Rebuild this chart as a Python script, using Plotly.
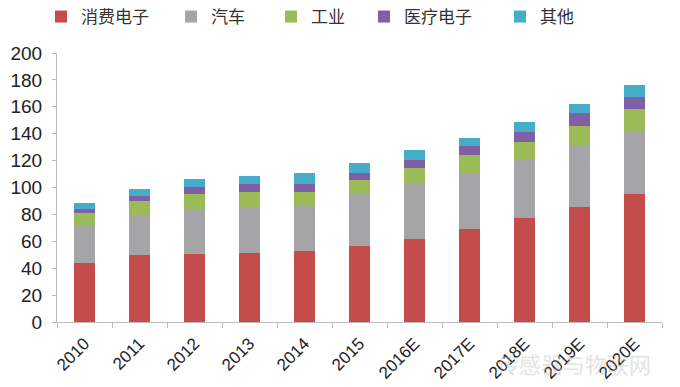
import plotly.graph_objects as go

years = ["2010", "2011", "2012", "2013", "2014", "2015", "2016E", "2017E", "2018E", "2019E", "2020E"]
consumer = [44, 49.5, 50.5, 51.5, 52.5, 56.5, 62, 69, 77, 85.5, 95]
auto = [28, 29.5, 32.5, 33.5, 34, 39, 41, 41.5, 44, 45.5, 47]
industry = [9, 11, 12, 12, 10.5, 10, 11.5, 13.5, 12.5, 14.5, 16]
medical = [3, 4, 5.5, 5.5, 5.5, 5.5, 6, 7, 8, 10, 9.5]
other = [4.5, 5, 5.5, 6, 8, 7.5, 7.5, 6, 7.5, 6.5, 9]

series = [
    ("消费电子", consumer, "#C44D4B"),
    ("汽车", auto, "#A5A5A7"),
    ("工业", industry, "#9BBB59"),
    ("医疗电子", medical, "#7F5FA6"),
    ("其他", other, "#45ADC9"),
]
# left edge (px) of each legend entry
legend_left_px = [41, 171, 271, 364, 500]

W, H = 680, 387
fig = go.Figure()
legend_layouts = {}
for i, (name, vals, col) in enumerate(series):
    lname = "legend" if i == 0 else f"legend{i+1}"
    fig.add_trace(go.Bar(x=years, y=vals, name=name, legend=lname,
                         marker=dict(color=col, line=dict(width=0))))
    legend_layouts[lname] = dict(
        orientation="h", xref="container", yref="container",
        x=legend_left_px[i] / W, xanchor="left",
        y=1 - 17 / H, yanchor="middle",
        font=dict(family="Noto Sans CJK SC", size=17, color="#333"),
        itemwidth=30, bgcolor="rgba(0,0,0,0)",
    )

fig.update_layout(
    barmode="stack",
    bargap=0.62,
    width=W, height=H,
    margin=dict(l=57, r=18, t=53, b=65, autoexpand=False),
    paper_bgcolor="white", plot_bgcolor="white",
    font=dict(family="Liberation Sans, Arial, sans-serif", color="#222"),
    xaxis=dict(
        showline=True, linecolor="#BBBBBB", linewidth=1,
        ticks="outside", tickcolor="#BBBBBB", ticklen=5, tickson="boundaries",
        tickangle=-45, tickfont=dict(size=17, color="#222"),
        ticklabelstandoff=4,
        showgrid=False, automargin=False,
    ),
    yaxis=dict(
        range=[0, 200], dtick=20,
        showline=True, linecolor="#BBBBBB", linewidth=1,
        ticks="outside", tickcolor="#BBBBBB", ticklen=4,
        tickfont=dict(size=19, color="#222"),
        ticklabelstandoff=6,
        showgrid=False, zeroline=False, automargin=False,
    ),
    showlegend=True,
    **legend_layouts,
)

fig.add_annotation(
    text="传感器与物联网", xref="paper", yref="paper", x=0.985, y=-0.153,
    xanchor="right", yanchor="middle", showarrow=False,
    font=dict(family="Noto Sans CJK SC", size=22, color="rgba(180,180,180,0.4)"),
)

fig.write_html("out.html", config={"displayModeBar": False},
               post_script="document.body.style.margin='0';")
